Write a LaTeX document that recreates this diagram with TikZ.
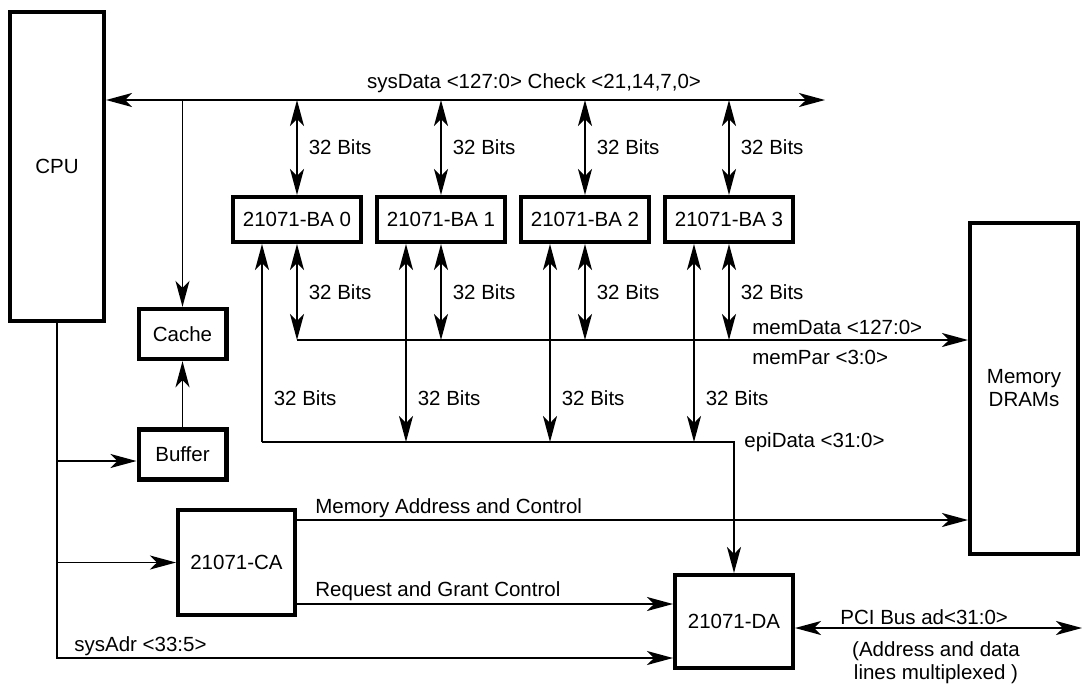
\documentclass[tikz,border=0pt]{standalone}
\usepackage{fontspec}
\setmainfont{Liberation Sans}
\usetikzlibrary{arrows.meta, positioning, calc}
\tikzset{
  chip/.style={draw,line width=2.2pt,inner sep=0pt,align=center},
  ba/.style={chip,minimum width=63.8pt,minimum height=22.3pt},
  wire/.style={line width=0.8pt},
  sig/.style={wire,-{Stealth[length=13pt,width=7pt,inset=3.5pt]}},
  bus/.style={wire,{Stealth[length=13pt,width=7pt,inset=3.5pt]}-{Stealth[length=13pt,width=7pt,inset=3.5pt]}},
  lbl/.style={inner sep=0pt},
  bits/.style={lbl,right=5.5pt},
}

\begin{document}
\begin{tikzpicture}[x=0.5pt,y=-0.5pt,font=\fontsize{10.25}{11.5}\selectfont]
	\useasboundingbox (0,0) rectangle (1087,687);
	% blocks
	\node[chip,minimum width=46.8pt,minimum height=154.3pt] (cpu) at (57,166.5) {CPU};
	\node[chip,minimum width=43.8pt,minimum height=25pt] (cache) at (182.5,334) {Cache};
	\node[chip,minimum width=43.8pt,minimum height=25pt] (buffer) at (182.5,454.5) {Buffer};
	\node[ba] (ba0) at (297,219.5) {21071-BA 0};
	\node[ba,right=6pt of ba0] (ba1) {21071-BA 1};
	\node[ba,right=6pt of ba1] (ba2) {21071-BA 2};
	\node[ba,right=6pt of ba2] (ba3) {21071-BA 3};
	\node[chip,minimum width=53.8pt,minimum height=165.3pt] (mem) at (1024,388.5) {Memory\\DRAMs};
	\node[chip,minimum width=58.3pt,minimum height=52.3pt] (ca) at (236.5,562.5) {21071-CA};
	\node[chip,minimum width=58.8pt,minimum height=46.3pt] (da) at (734,621.5) {21071-DA};

	% sysData bus
	\coordinate (sysend) at (825,100);
	\draw[bus] (cpu.east |- sysend) -- (sysend);
	\node[lbl] (sysdata) at (534,83) {sysData <127:0> Check <21,14,7,0>};
	\draw[sig] (cache.north |- sysend) -- (cache.north);
	\draw[sig] (buffer) -- (cache);
	\draw[bus] (ba0.north |- sysend) -- (ba0.north) node[bits,midway] {32 Bits};
	\draw[bus] (ba1.north |- sysend) -- (ba1.north) node[bits,midway] {32 Bits};
	\draw[bus] (ba2.north |- sysend) -- (ba2.north) node[bits,midway] {32 Bits};
	\draw[bus] (ba3.north |- sysend) -- (ba3.north) node[bits,midway] {32 Bits};

	% memData bus
	\coordinate (md) at (297,340);
	\draw[sig] (md) -- (md -| mem.west);
	\node[lbl,anchor=west] (memdata) at (752,327) {memData <127:0>};
	\node[lbl,anchor=west] (mempar) at (752,357) {memPar <3:0>};
	\draw[bus] (ba0.south) -- (ba0.south |- md) node[bits,midway] {32 Bits};
	\draw[bus] (ba1.south) -- (ba1.south |- md) node[bits,midway] {32 Bits};
	\draw[bus] (ba2.south) -- (ba2.south |- md) node[bits,midway] {32 Bits};
	\draw[bus] (ba3.south) -- (ba3.south |- md) node[bits,midway] {32 Bits};

	% epiData bus
	\coordinate (epi) at (262,442);
	\coordinate (t1) at ($(ba1.south)+(-35,0)$);
	\coordinate (t2) at ($(ba2.south)+(-35,0)$);
	\coordinate (t3) at ($(ba3.south)+(-35,0)$);
	\draw[sig] (epi) -| (da.north);
	\node[lbl,anchor=west] (epidata) at (744,442) {epiData <31:0>};
	\draw[sig] (epi) -- (epi |- ba0.south) node[bits,pos=0.22] {32 Bits};
	\draw[bus] (t1) -- (t1 |- epi) node[bits,pos=0.78] {32 Bits};
	\draw[bus] (t2) -- (t2 |- epi) node[bits,pos=0.78] {32 Bits};
	\draw[bus] (t3) -- (t3 |- epi) node[bits,pos=0.78] {32 Bits};

	% control
	\coordinate (ma) at (0,520);
	\coordinate (rg) at (0,604);
	\draw[sig] (ca.east |- ma) -- (mem.west |- ma);
	\node[lbl,anchor=west] (malbl) at (315,508) {Memory Address and Control};
	\draw[sig] (ca.east |- rg) -- (da.west |- rg);
	\node[lbl,anchor=west] (rglbl) at (315,591) {Request and Grant Control};

	% sysAdr
	\coordinate (adr) at (0,658);
	\coordinate (bufin) at (0,461);
	\draw[sig] (cpu.south) |- (da.west |- adr);
	\draw[sig] (cpu.south |- bufin) -- (buffer.west |- bufin);
	\draw[sig] (cpu.south |- ca) -- (ca.west);
	\node[lbl,anchor=west] (sysadr) at (74,646) {sysAdr <33:5>};

	% PCI
	\coordinate (pciend) at (1082,628);
	\draw[bus] (da.east |- pciend) -- (pciend);
	\node[lbl,anchor=west] (pcilbl) at (840,617) {PCI Bus ad<31:0>};
	\node[lbl,align=center] (pcinote) at (936,663) {(Address and data\\lines multiplexed )};
\end{tikzpicture}
\end{document}
